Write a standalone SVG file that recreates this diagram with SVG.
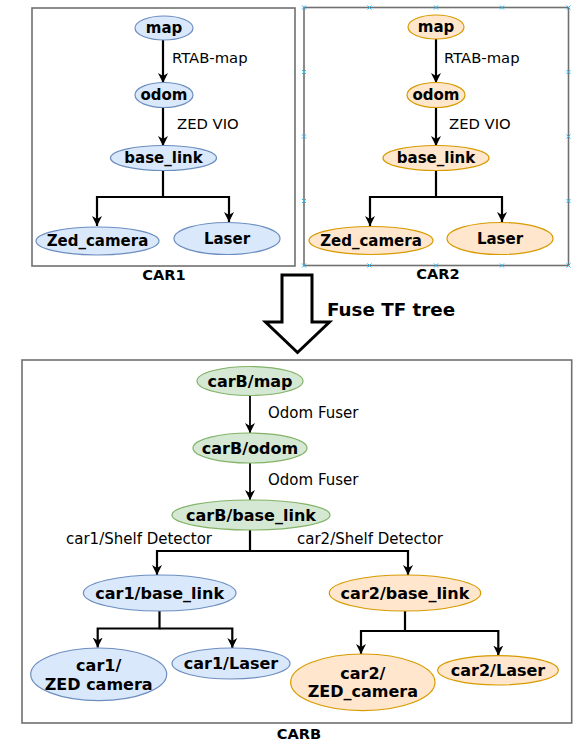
<svg xmlns="http://www.w3.org/2000/svg" width="580" height="749" viewBox="0 0 580 749">
<defs>
<marker id="arr" markerWidth="11" markerHeight="11" refX="10" refY="5.5" orient="auto" markerUnits="userSpaceOnUse">
<path d="M0,0.5 L10,5.5 L0,10.5 L3,5.5 z" fill="#000"/>
</marker>
<style>
.box{fill:#fff;stroke:#707070;stroke-width:1.6}
.blue{fill:#dae8fc;stroke:#6c8ebf;stroke-width:1.2}
.orange{fill:#ffe6cc;stroke:#d79b00;stroke-width:1.2}
.green{fill:#d5e8d4;stroke:#82b366;stroke-width:1.2}
.n{font-family:"DejaVu Sans",Verdana,sans-serif;font-weight:bold;font-size:15px;fill:#000;text-anchor:middle;dominant-baseline:central}
.nb{font-size:16px}
.lbl{font-family:"DejaVu Sans",Verdana,sans-serif;font-size:14.8px;fill:#000;dominant-baseline:central}
.lb2{font-size:15px}
.title{font-family:"DejaVu Sans",Verdana,sans-serif;font-weight:bold;font-size:14.6px;fill:#000;text-anchor:middle;dominant-baseline:central}
.c{fill:none;stroke:#000;stroke-width:2.2;marker-end:url(#arr)}
.c1{stroke-width:1.8}
.h{fill:none;stroke:#29b6f2;stroke-width:1}
</style>
</defs>

<g id="car1-box"><rect class="box" x="32" y="8" width="263" height="258"/><text class="title" x="164" y="274">CAR1</text></g>
<g id="car2-box"><rect class="box" x="304" y="7.5" width="264.5" height="258"/><text class="title" x="438" y="273.5">CAR2</text></g>
<g id="carb-box"><rect class="box" x="22" y="360" width="549.7" height="363"/><text class="title" x="299" y="733">CARB</text></g>

<g id="selection-handles" class="h">
<path d="M302,5.5l4,4m0,-4l-4,4 M367.5,5.5l4,4m0,-4l-4,4 M434,5.5l4,4m0,-4l-4,4 M500,5.5l4,4m0,-4l-4,4 M566.5,5.5l4,4m0,-4l-4,4
M302,263.5l4,4m0,-4l-4,4 M367.5,263.5l4,4m0,-4l-4,4 M434,263.5l4,4m0,-4l-4,4 M500,263.5l4,4m0,-4l-4,4 M566.5,263.5l4,4m0,-4l-4,4
M302,70l4,4m0,-4l-4,4 M302,134.5l4,4m0,-4l-4,4 M302,199l4,4m0,-4l-4,4
M566.5,70l4,4m0,-4l-4,4 M566.5,134.5l4,4m0,-4l-4,4 M566.5,199l4,4m0,-4l-4,4"/>
</g>

<g id="connectors">
<path class="c" d="M163,40 V83"/>
<path class="c" d="M163,108 V146"/>
<path class="c" d="M163,171 V197 H97 V226"/>
<path class="c" d="M163,197 H229 V222"/>
<path class="c" d="M436,39 V83"/>
<path class="c" d="M436,108 V146"/>
<path class="c" d="M436,171 V197 H370 V226"/>
<path class="c" d="M436,197 H502 V222"/>
<path class="c c1" d="M250,395.5 V433"/>
<path class="c c1" d="M250,463 V500"/>
<path class="c" d="M250,530 V551 H157 V575"/>
<path class="c" d="M250,551 H408 V575"/>
<path class="c" d="M159.5,611 V628.5 H97.7 V647.5"/>
<path class="c" d="M159.5,628.5 H232.3 V648"/>
<path class="c" d="M405,611 V631 H361 V654"/>
<path class="c" d="M405,631 H498.3 V655.5"/>
<text class="lbl" x="172" y="57">RTAB-map</text>
<text class="lbl" x="177" y="123">ZED VIO</text>
<text class="lbl" x="444" y="57">RTAB-map</text>
<text class="lbl" x="449" y="123">ZED VIO</text>
<text class="lbl lb2" x="268" y="413">Odom Fuser</text>
<text class="lbl lb2" x="268" y="480">Odom Fuser</text>
<text class="lbl lb2" x="66" y="539">car1/Shelf Detector</text>
<text class="lbl lb2" x="297" y="539">car2/Shelf Detector</text>
</g>

<g id="fuse-arrow">
<polygon points="282,275 312,275 312,322 329.5,322 297.5,352.5 265.5,322 282,322" fill="#fff" stroke="#000" stroke-width="3" stroke-linejoin="miter"/>
<text x="327" y="309.5" font-family="DejaVu Sans,Verdana,sans-serif" font-weight="bold" font-size="18.3" dominant-baseline="central">Fuse TF tree</text>
</g>

<g id="car1-map"><ellipse class="blue" cx="164" cy="28" rx="29" ry="12"/><text class="n" x="164" y="28">map</text></g>
<g id="car1-odom"><ellipse class="blue" cx="164" cy="95" rx="29" ry="12.5"/><text class="n" x="164" y="95">odom</text></g>
<g id="car1-base_link"><ellipse class="blue" cx="163.5" cy="158" rx="53" ry="12.5"/><text class="n" x="163.5" y="158">base_link</text></g>
<g id="car1-zed"><ellipse class="blue" cx="97.5" cy="241" rx="61.5" ry="14"/><text class="n" x="97.5" y="241">Zed_camera</text></g>
<g id="car1-laser"><ellipse class="blue" cx="227" cy="238.5" rx="53" ry="16"/><text class="n" x="227" y="238.5">Laser</text></g>

<g id="car2-map"><ellipse class="orange" cx="436" cy="27" rx="28" ry="12"/><text class="n" x="436" y="27">map</text></g>
<g id="car2-odom"><ellipse class="orange" cx="436" cy="95" rx="29" ry="12.5"/><text class="n" x="436" y="95">odom</text></g>
<g id="car2-base_link"><ellipse class="orange" cx="436" cy="158" rx="53" ry="12.5"/><text class="n" x="436" y="158">base_link</text></g>
<g id="car2-zed"><ellipse class="orange" cx="371" cy="240.5" rx="62" ry="14"/><text class="n" x="371" y="240.5">Zed_camera</text></g>
<g id="car2-laser"><ellipse class="orange" cx="500" cy="238.5" rx="53" ry="16"/><text class="n" x="500" y="238.5">Laser</text></g>

<g id="carB-map"><ellipse class="green" cx="250" cy="381" rx="53" ry="14.5"/><text class="n nb" x="250" y="381">carB/map</text></g>
<g id="carB-odom"><ellipse class="green" cx="250" cy="448" rx="57" ry="15"/><text class="n nb" x="250" y="448">carB/odom</text></g>
<g id="carB-base_link"><ellipse class="green" cx="251" cy="515" rx="79" ry="15"/><text class="n nb" x="251" y="515">carB/base_link</text></g>
<g id="car1-base_link-b"><ellipse class="blue" cx="159.7" cy="593" rx="76.3" ry="18"/><text class="n nb" x="159.7" y="593">car1/base_link</text></g>
<g id="car2-base_link-b"><ellipse class="orange" cx="405" cy="593" rx="75.7" ry="18"/><text class="n nb" x="405" y="593">car2/base_link</text></g>
<g id="car1-zed-b"><ellipse class="blue" cx="98.7" cy="674.3" rx="68" ry="26.3"/><text class="n nb" x="98.7" y="665.7">car1/</text><text class="n nb" x="98.7" y="684">ZED camera</text></g>
<g id="car1-laser-b"><ellipse class="blue" cx="231" cy="663.5" rx="59" ry="15.5"/><text class="n nb" x="231" y="663.5">car1/Laser</text></g>
<g id="car2-zed-b"><ellipse class="orange" cx="362.8" cy="682.3" rx="72.2" ry="28.3"/><text class="n nb" x="362.8" y="673.3">car2/</text><text class="n nb" x="362.8" y="691.7">ZED_camera</text></g>
<g id="car2-laser-b"><ellipse class="orange" cx="498" cy="670.3" rx="60.3" ry="14.7"/><text class="n nb" x="498" y="670.3">car2/Laser</text></g>
</svg>
